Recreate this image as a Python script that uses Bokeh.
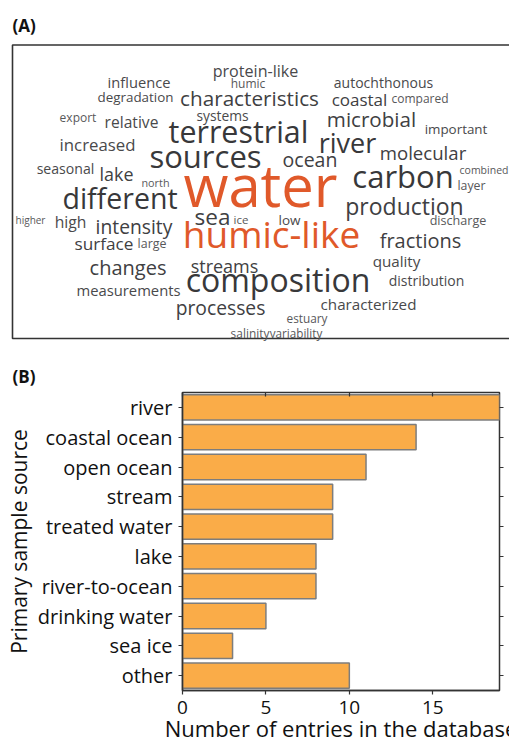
from bokeh.plotting import figure
from bokeh.layouts import column
from bokeh.models import ColumnDataSource, Range1d, FactorRange, FixedTicker, LinearAxis, CategoricalAxis
from bokeh.core.properties import value
from bokeh.embed import file_html
from bokeh.resources import INLINE

FONT = "Open Sans"

# ---------------- Panel B data ----------------
categories = ["river", "coastal ocean", "open ocean", "stream", "treated water",
              "lake", "river-to-ocean", "drinking water", "sea ice", "other"]
entries = [19, 14, 11, 9, 9, 8, 8, 5, 3, 10]
x_ticks = [0, 5, 10, 15]

# ---------------- Panel A word cloud ----------------
words = ["water", "humic-like", "terrestrial", "sources", "composition", "carbon",
         "different", "river", "production", "characteristics", "microbial", "molecular",
         "fractions", "ocean", "sea", "intensity", "changes", "streams", "processes",
         "characterized", "coastal", "increased", "lake", "surface", "high", "relative",
         "protein-like", "measurements", "autochthonous", "influence", "degradation",
         "distribution", "quality", "systems", "important", "compared", "discharge",
         "seasonal", "estuary", "export", "humic", "combined", "layer", "north", "large",
         "low", "ice", "higher", "salinity", "variability"]
# font size in px (word weight)
word_px = [58, 37, 30.4, 31, 32, 31,
           28.5, 27, 23, 20.7, 20.6, 18.6,
           20, 19.5, 22.5, 19.3, 20, 18, 19.3,
           15.2, 17, 16.8, 17.9, 17.2, 15.7, 15.6,
           16.1, 14.8, 14, 14.7, 13.4,
           14, 15.2, 13.8, 13.4, 12, 12.6,
           14.1, 11.8, 12, 12, 10.5, 12.3, 10.8, 12.4,
           13.5, 11.5, 10, 11.9, 11.7]
# layout: centre x and baseline y (page pixels)
word_x = [260, 271, 238, 205, 277.5, 402.5,
          119.5, 347, 404, 249, 371, 422.5,
          420, 309.5, 212, 133.5, 127.5, 224, 220,
          368, 359, 97, 116, 103.5, 70, 131,
          255, 128, 383, 138.5, 135,
          426, 396, 222, 455.5, 419.5, 457.5,
          65, 306.5, 77.5, 247.5, 483.5, 471, 155, 151.5,
          289, 240.5, 30, 249.5, 295.5]
word_y = [203, 245, 141, 165, 289, 185,
          207, 151, 213, 104, 125, 158,
          246, 165, 223, 232, 273, 271, 313,
          308, 104, 149, 179, 249, 227, 126,
          76, 294, 86, 86, 101,
          284, 265, 119, 133, 102, 224,
          173, 321, 121, 87, 173, 189, 185, 247,
          224, 223, 223, 336, 336]

# the text renderer sits the glyphs ~0.32 em below the given anchor; compensate
SHIFT = 0.32


def word_color(w, s):
    if w in ("water", "humic-like"):
        return "#E0592A"
    if s >= 24:
        return "#38383a"
    if s >= 17:
        return "#404042"
    if s >= 13:
        return "#49494b"
    return "#58585a"


word_colors = [word_color(w, s) for w, s in zip(words, word_px)]

TOP_H = 387

# ---------------- figure A ----------------
pa = figure(width=509, height=TOP_H, x_range=Range1d(0, 509), y_range=Range1d(TOP_H, 0),
            output_backend="svg", toolbar_location=None, min_border=0,
            outline_line_color=None)
pa.title = None
pa.frame_align = False
pa.axis.visible = False
pa.grid.visible = False

pa.quad(left=[12], right=[530], top=[44.5], bottom=[338], fill_color=None,
        line_color="#333333", line_width=1.6)

wsrc = ColumnDataSource(dict(x=word_x, y=[y - SHIFT * s for y, s in zip(word_y, word_px)],
                             text=words, size=[f"{s}px" for s in word_px], color=word_colors))
pa.text(x="x", y="y", text="text", source=wsrc, text_font=value(FONT),
        text_font_size="size", text_color="color", text_align="center",
        text_baseline="alphabetic")

pa.text(x=[12, 12], y=[30 - SHIFT * 17, 381 - SHIFT * 17], text=["(A)", "(B)"],
        text_font=value(FONT), text_font_size="17px", text_font_style="bold",
        text_color="#111111", text_align="left", text_baseline="alphabetic")

# ---------------- figure B ----------------
pb = figure(width=509, height=745 - TOP_H, y_range=FactorRange(factors=categories[::-1]),
            x_range=Range1d(0, 19), output_backend="svg", toolbar_location=None,
            min_border_left=182, min_border_right=10, min_border_top=392 - TOP_H,
            min_border_bottom=55)
pb.title = None
pb.frame_align = False
pb.grid.visible = False
pb.outline_line_color = "#333333"
pb.outline_line_width = 1.5

src = ColumnDataSource(dict(cat=categories, val=entries))
pb.hbar(y="cat", right="val", left=0, height=0.85, source=src,
        fill_color="#FAAC48", line_color="#7d7d7d", line_width=1.5)

xa = pb.xaxis[0]
xa.ticker = FixedTicker(ticks=x_ticks)
xa.axis_label = "Number of entries in the database"
xa.axis_label_text_font = FONT
xa.axis_label_text_font_size = "22px"
xa.axis_label_text_font_style = "normal"
xa.axis_label_text_color = "#111111"
xa.axis_label_standoff = -4
xa.major_label_text_font = FONT
xa.major_label_text_font_size = "19px"
xa.major_label_text_color = "#111111"
xa.major_label_standoff = 6
xa.major_tick_in = 0
xa.major_tick_out = 4
xa.minor_tick_line_color = None
xa.axis_line_color = "#333333"
xa.axis_line_width = 1.5
xa.major_tick_line_color = "#333333"
xa.major_tick_line_width = 1.2

ya = pb.yaxis[0]
ya.axis_label = "Primary sample source"
ya.axis_label_text_font = FONT
ya.axis_label_text_font_size = "21px"
ya.axis_label_text_font_style = "normal"
ya.axis_label_text_color = "#111111"
ya.axis_label_standoff = 2
ya.major_label_text_font = FONT
ya.major_label_text_font_size = "20px"
ya.major_label_text_color = "#111111"
ya.major_label_standoff = 6
ya.major_tick_in = 0
ya.major_tick_out = 4
ya.axis_line_color = "#333333"
ya.axis_line_width = 1.5
ya.major_tick_line_color = "#333333"
ya.major_tick_line_width = 1.2

# inner ticks along the top edge, outer ticks along the right edge (no labels)
top_ax = LinearAxis(ticker=FixedTicker(ticks=x_ticks),
                    major_label_overrides={t: " " for t in x_ticks},
                    major_label_text_font_size="2px", major_label_text_color=None,
                    major_label_standoff=0, major_tick_in=4, major_tick_out=0,
                    minor_tick_line_color=None, axis_line_color=None,
                    major_tick_line_color="#333333", major_tick_line_width=1.2)
pb.add_layout(top_ax, "above")
right_ax = CategoricalAxis(major_label_text_font_size="2px", major_label_text_color=None,
                           major_label_standoff=0,
                           major_tick_in=0, major_tick_out=4, axis_line_color=None,
                           major_tick_line_color="#333333", major_tick_line_width=1.2)
pb.add_layout(right_ax, "right")

layout = column(pa, pb, spacing=0)
open("out.html", "w").write(file_html(layout, INLINE))
